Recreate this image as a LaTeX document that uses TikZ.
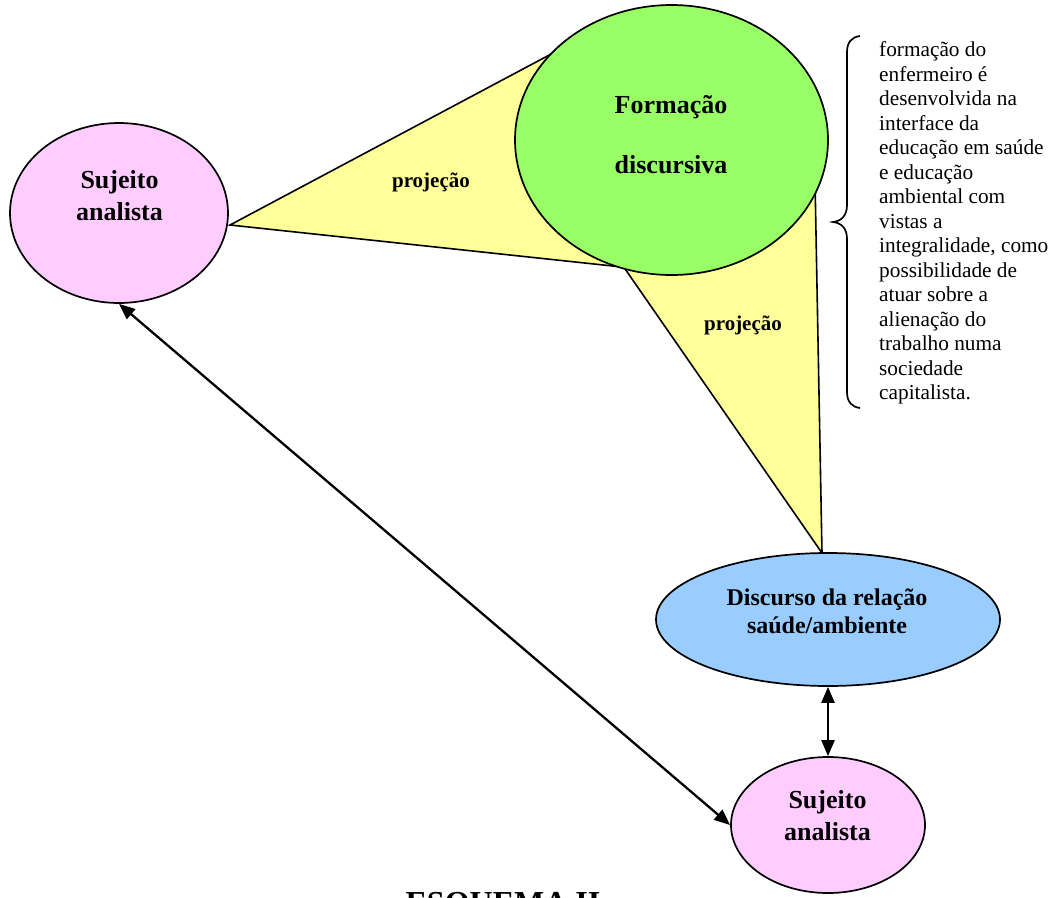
\documentclass[tikz,border=0pt]{standalone}
\usepackage{fontspec}
\setmainfont{Liberation Serif}
\usetikzlibrary{arrows.meta,shapes.geometric}
\definecolor{pinkfill}{HTML}{FFCCFF}
\definecolor{greenfill}{HTML}{99FF66}
\definecolor{yellowfill}{HTML}{FFFF99}
\definecolor{bluefill}{HTML}{99CCFF}
\begin{document}
\begin{tikzpicture}[x=1pt,y=-1pt,
  blob/.style={ellipse,draw=black,line width=1.7pt,inner sep=0pt},
  wedge/.style={draw=black,line width=1.6pt,fill=yellowfill,line join=miter},
  word/.style={inner sep=0pt,anchor=base,font=\bfseries},
  link/.style={line width=2.3pt,{Triangle[length=16pt,width=13pt]}-{Triangle[length=16pt,width=13pt]}}
]
\useasboundingbox (0,0) rectangle (1057,897);
\clip (0,0) rectangle (1057,897);

% projection wedges (drawn first, partly hidden by the ellipses)
\coordinate (w1a) at (230,225);
\coordinate (w1b) at (600,28);
\coordinate (w1c) at (650,270);
\coordinate (w2a) at (605,240);
\coordinate (w2b) at (822,553);
\coordinate (w2c) at (815,180);
\draw[wedge] (w1a) -- (w1b) -- (w1c) -- cycle;
\draw[wedge] (w2a) -- (w2b) -- (w2c) -- cycle;

% ellipses
\node[blob,fill=pinkfill,minimum width=218pt,minimum height=180pt] (s1) at (119,213) {};
\node[blob,fill=greenfill,minimum width=313pt,minimum height=270pt] (fd) at (671.5,140) {};
\node[blob,fill=bluefill,minimum width=344pt,minimum height=133pt] (disc) at (828,619.5) {};
\node[blob,fill=pinkfill,minimum width=194pt,minimum height=136pt] (s2) at (828,825) {};

% labels inside the ellipses
\node[word,font=\bfseries\fontsize{26}{30}\selectfont] (s1l1) at (119.5,188) {Sujeito};
\node[word,font=\bfseries\fontsize{26}{30}\selectfont] (s1l2) at (119.5,220) {analista};
\node[word,font=\bfseries\fontsize{26}{30}\selectfont] (fdl1) at (671,113) {Formação};
\node[word,font=\bfseries\fontsize{26}{30}\selectfont] (fdl2) at (671,173) {discursiva};
\node[word,font=\bfseries\fontsize{24}{28}\selectfont] (dl1) at (827,605) {Discurso da relação};
\node[word,font=\bfseries\fontsize{24}{28}\selectfont] (dl2) at (827,633) {saúde/ambiente};
\node[word,font=\bfseries\fontsize{26}{30}\selectfont] (s2l1) at (827.5,808) {Sujeito};
\node[word,font=\bfseries\fontsize{26}{30}\selectfont] (s2l2) at (827.5,840) {analista};

% wedge labels
\node[word,font=\bfseries\fontsize{21}{25}\selectfont] (p1) at (431,187) {projeção};
\node[word,font=\bfseries\fontsize{21}{25}\selectfont] (p2) at (743,330) {projeção};

% connectors
\draw[link] (s1.south) -- (s2.west);
\draw[link] (disc.south) -- (s2.north);

% brace and note
\draw[line width=1.7pt] (860,36) .. controls (852,37) and (847,42) .. (847,52)
  -- (847,205) .. controls (847,215) and (842,221) .. (833,222)
  .. controls (842,223) and (847,229) .. (847,239)
  -- (847,392) .. controls (847,402) and (852,407) .. (860,408);
\node[inner sep=0pt,anchor=north west,align=left,font=\fontsize{21.3}{24.5}\selectfont] (note) at (879,41.5)
{formação do\\enfermeiro é\\desenvolvida na\\interface da\\educação em saúde\\e educação\\ambiental com\\vistas a\\integralidade, como\\possibilidade de\\atuar sobre a\\alienação do\\trabalho numa\\sociedade\\capitalista.};

% caption, running off the lower edge
\node[word,font=\bfseries\fontsize{32}{36}\selectfont] (cap) at (503,913) {ESQUEMA II};
\end{tikzpicture}
\end{document}
